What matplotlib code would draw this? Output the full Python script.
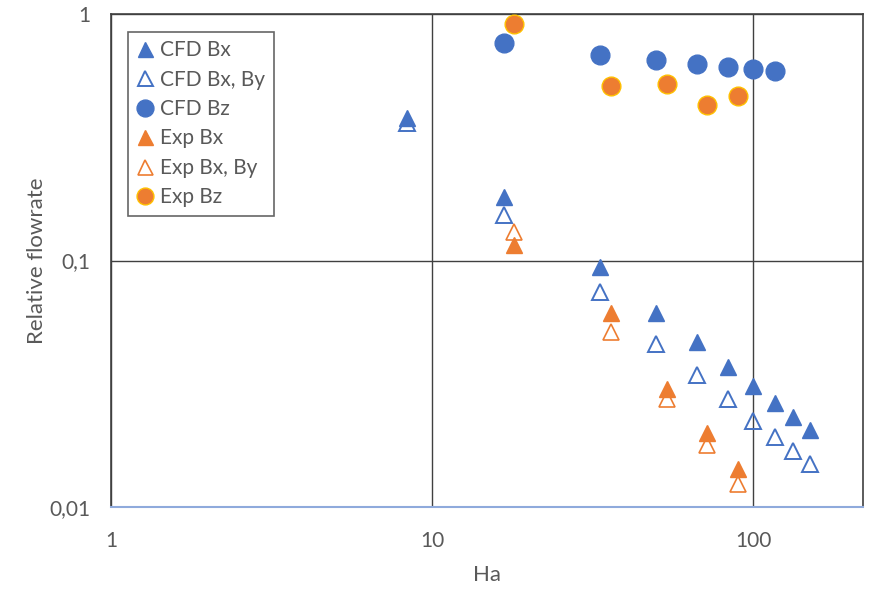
import matplotlib.pyplot as plt
from matplotlib.ticker import FixedLocator, FixedFormatter, NullLocator

plt.rcParams['font.family'] = ['Lato', 'DejaVu Sans']

# CFD data
ha_cfd_bz = [16.7, 33.3, 50, 66.7, 83.3, 100, 116.7]
q_cfd_bz = [0.763, 0.682, 0.651, 0.627, 0.609, 0.598, 0.587]

ha_cfd_bx = [8.36, 16.7, 33.3, 50, 66.7, 83.3, 100, 116.7, 133.3, 150]
q_cfd_bx = [0.379, 0.181, 0.094, 0.0612, 0.0467, 0.037, 0.031, 0.0264, 0.0232, 0.0205]
q_cfd_bxby = [0.36, 0.153, 0.0745, 0.0458, 0.0343, 0.0274, 0.0224, 0.0192, 0.0168, 0.0149]

# Experiment data
ha_exp = [18, 36, 54, 72, 90]
q_exp_bz = [0.911, 0.51, 0.52, 0.427, 0.465]
q_exp_bx = [0.1156, 0.0614, 0.030, 0.0199, 0.0143]
q_exp_bxby = [0.1305, 0.0511, 0.0274, 0.0178, 0.0124]

blue = '#4472C4'
orange = '#ED7D31'
grey = '#595959'

fig = plt.figure(figsize=(8.71, 5.89), dpi=100)
ax = fig.add_axes([0.1274, 0.1392, 0.8634, 0.837])

ax.plot(ha_cfd_bx, q_cfd_bx, '^', ms=12, color=blue, mec=blue, label='CFD Bx', zorder=3)
ax.plot(ha_cfd_bx, q_cfd_bxby, '^', ms=12, mfc='none', mec=blue, mew=1.4, label='CFD Bx, By', zorder=3)
ax.plot(ha_cfd_bz, q_cfd_bz, 'o', ms=13.5, color=blue, mec=blue, label='CFD Bz', zorder=3)
ax.plot(ha_exp, q_exp_bx, '^', ms=12, color=orange, mec=orange, label='Exp Bx', zorder=3)
ax.plot(ha_exp, q_exp_bxby, '^', ms=12, mfc='none', mec=orange, mew=1.2, label='Exp Bx, By', zorder=3)
ax.plot(ha_exp, q_exp_bz, 'o', ms=13.5, color=orange, mec='#FFC000', mew=1.0, label='Exp Bz', zorder=3)

ax.set_xscale('log')
ax.set_yscale('log')
ax.set_xlim(1, 220)
ax.set_ylim(0.01, 1)

ax.xaxis.set_major_locator(FixedLocator([1, 10, 100]))
ax.xaxis.set_major_formatter(FixedFormatter(['1', '10', '100']))
ax.yaxis.set_major_locator(FixedLocator([0.01, 0.1, 1]))
ax.yaxis.set_major_formatter(FixedFormatter(['0,01', '0,1', '1']))
ax.xaxis.set_minor_locator(NullLocator())
ax.yaxis.set_minor_locator(NullLocator())
ax.tick_params(length=0, labelsize=15, colors=grey)
ax.tick_params(axis='x', pad=17)
ax.tick_params(axis='y', pad=15)

ax.grid(True, which='major', color='#404040', lw=1.0)
ax.set_axisbelow(True)
for side in ['top', 'right', 'left']:
    ax.spines[side].set_color('#404040')
    ax.spines[side].set_linewidth(1.2)
ax.spines['bottom'].set_color('#8FAADC')
ax.spines['bottom'].set_linewidth(1.5)

ax.set_xlabel('Ha', fontsize=16, color=grey)
ax.set_ylabel('Relative flowrate', fontsize=16, color=grey)
ax.xaxis.set_label_coords(0.5, -0.138, transform=ax.transAxes)
ax.yaxis.set_label_coords(-0.098, 0.5, transform=ax.transAxes)
ax.xaxis.label.set_va('center')
ax.yaxis.label.set_va('center')

leg = ax.legend(loc='upper left', bbox_to_anchor=(0.0225, 0.9635), fontsize=15,
                frameon=True, fancybox=False, edgecolor='#404040',
                handlelength=0.8, handletextpad=0.35, borderpad=0.4,
                labelspacing=0.45, borderaxespad=0, markerscale=0.9)
leg.get_frame().set_linewidth(1.2)
for t in leg.get_texts():
    t.set_color(grey)

fig.savefig('out.png', dpi=100)
